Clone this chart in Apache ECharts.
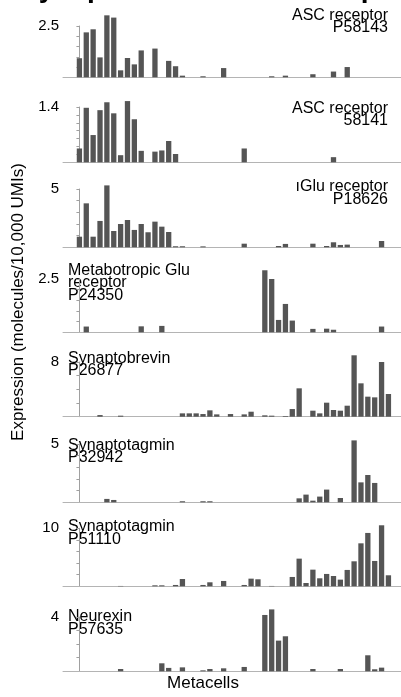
<!DOCTYPE html>
<html>
<head>
<meta charset="utf-8">
<script src="https://cdn.jsdelivr.net/npm/echarts@6/dist/echarts.min.js"></script>
<style>
  html, body { margin: 0; padding: 0; background: #ffffff; }
  #chart { width: 401px; height: 697px; }
</style>
</head>
<body>
<div id="chart"></div>
<script>
// Expression per metacell (molecules / 10,000 UMIs), one array per gene, 46 metacells each
const ascReceptorP58143 = [0.93,2.19,2.34,0.97,3.02,2.91,0.34,0.94,0.63,1.31, 0,1.40,0,0.80,0.54,0.08,0,0,0.05,0, 0,0.45,0,0,0,0,0,0,0.05,0, 0.08,0,0,0,0.15,0,0,0.28,0,0.50, 0,0,0,0,0,0];
const ascReceptor58141 = [0.35,1.38,0.69,1.32,1.52,1.24,0.18,1.55,1.09,0.29, 0,0.27,0.30,0.54,0.21,0,0,0,0,0, 0,0,0,0,0.35,0,0,0,0,0, 0,0,0,0,0,0,0,0.13,0,0, 0,0,0,0,0,0];
const iGluReceptorP18626 = [0.91,3.77,0.91,2.26,5.31,1.40,2.00,2.34,1.49,2.00, 1.29,2.20,1.77,1.31,0.09,0.09,0,0,0.08,0, 0,0,0,0,0.31,0,0,0,0,0.11, 0.29,0,0,0,0.31,0,0.11,0.43,0.20,0.23, 0,0,0,0,0.54,0];
const mGluReceptorP24350 = [0,0.27,0,0,0,0,0,0,0,0.28, 0,0,0.30,0,0,0,0,0,0,0, 0,0,0,0,0,0,0,2.91,2.50,0.58, 1.33,0.55,0,0,0.16,0,0.17,0.12,0,0, 0,0,0,0,0.27,0];
const synaptobrevinP26877 = [0,0,0,0.24,0,0,0.15,0,0,0, 0,0,0,0,0,0.49,0.49,0.49,0.39,0.93, 0.34,0,0.39,0,0.34,0.73,0,0.20,0.15,0, 0.10,1.12,4.15,0,0.88,0.49,2.05,0.98,0.88,1.61, 8.98,4.88,2.93,2.83,8.00,3.32];
const synaptotagminP32942 = [0,0,0,0,0.29,0.20,0,0,0,0, 0,0,0,0,0,0.09,0,0,0.09,0.09, 0,0,0,0,0,0,0,0,0,0, 0,0,0.34,0.66,0.14,0.49,1.09,0,0.37,0, 5.31,1.71,2.34,1.66,0,0];
const synaptotagminP51110 = [0,0,0,0,0,0,0.06,0,0,0, 0,0.17,0.17,0,0.23,1.26,0,0,0.23,0.69, 0,0.92,0,0,0.23,1.32,1.21,0,0.06,0, 0,1.61,4.77,0.57,2.87,1.38,2.13,1.78,1.15,2.82, 4.31,7.41,9.20,4.37,10.52,1.90];
const neurexinP57635 = [0,0,0,0,0,0,0.17,0,0,0, 0,0,0.59,0.25,0,0.29,0,0,0.07,0.17, 0,0.22,0,0,0.32,0,0,4.15,4.56,2.26, 2.58,0,0,0,0.17,0,0,0,0.17,0, 0,0,1.18,0.15,0.27,0];

// Panel labels, y-axis top tick and tick step
const panelSeries = [ascReceptorP58143, ascReceptor58141, iGluReceptorP18626, mGluReceptorP24350,
                     synaptobrevinP26877, synaptotagminP32942, synaptotagminP51110, neurexinP57635];
const panelLabels = ['ASC receptor\nP58143', 'ASC receptor\n58141', 'ıGlu receptor\nP18626',
                     'Metabotropic Glu\nreceptor\nP24350', 'Synaptobrevin\nP26877', 'Synaptotagmin\nP32942',
                     'Synaptotagmin\nP51110', 'Neurexin\nP57635'];
const yTopTicks = [2.5, 1.4, 5, 2.5, 8, 5, 10, 4];
const yTickSteps = [0.5, 0.2, 1, 0.5, 2, 1, 2, 1];

const yAxisTitle = 'Expression (molecules/10,000 UMIs)';
const xAxisTitle = 'Metacells';
const figureTitle = 'Synaptic vesicle and receptor proteins';

// ---- layout ----
const FONT = '"Liberation Sans", Arial, Helvetica, sans-serif';
const panelTop = [26, 107, 189, 279, 362, 444, 528.3, 617];      // y of top tick
const panelBase = [77.3, 162.3, 247.3, 332.3, 416.7, 502.3, 586.3, 671.3]; // y of zero line
const labelRightAligned = [true, true, true, false, false, false, false, false];
const labelTop = [7.2, 100.5, 179, 262.2, 350.5, 437.2, 519, 609];
const X_MIN = -2.39, X_MAX = 46.83;

const grids = [], xAxes = [], yAxes = [], series = [], graphics = [];

panelSeries.forEach((values, p) => {
  grids.push({ left: 63, right: 0, top: panelTop[p], height: panelBase[p] - panelTop[p] });
  xAxes.push({
    type: 'value', gridIndex: p, min: X_MIN, max: X_MAX,
    axisLine: { show: true, onZero: false, lineStyle: { color: '#b4b4b4', width: 1 } },
    axisTick: { show: false }, axisLabel: { show: false }, splitLine: { show: false }
  });
  const top = yTopTicks[p];
  yAxes.push({
    type: 'value', gridIndex: p, min: 0, max: top, interval: yTickSteps[p],
    axisLine: { show: true, lineStyle: { color: '#a0a0a0', width: 1 } },
    axisTick: { show: true, inside: false, length: 3, lineStyle: { color: '#a0a0a0' } },
    axisLabel: {
      show: true, margin: 4, color: '#000', fontFamily: FONT, fontSize: 15,
      showMinLabel: false,
      formatter: v => (Math.abs(v - top) < 1e-9 ? String(top) : '')
    },
    splitLine: { show: false }
  });
  series.push({
    type: 'bar', xAxisIndex: p, yAxisIndex: p, clip: false,
    barWidth: 5.3, itemStyle: { color: '#555555' },
    data: values.map((v, i) => [i, v]),
    silent: true, animation: false
  });
  const lbl = {
    type: 'text', top: labelTop[p],
    style: { text: panelLabels[p], font: '16px ' + FONT, fill: '#000', lineHeight: 12.5,
             textAlign: labelRightAligned[p] ? 'right' : 'left' }
  };
  if (labelRightAligned[p]) lbl.right = 13; else lbl.left = 68;
  graphics.push(lbl);
});

graphics.push({
  type: 'text', x: 20, y: -10.3,
  style: { text: figureTitle, font: 'bold 28px ' + FONT, fill: '#000', textVerticalAlign: 'middle' }
});
graphics.push({
  type: 'text', x: 18, y: 302, rotation: Math.PI / 2,
  style: { text: yAxisTitle, font: '17px ' + FONT, fill: '#000', textAlign: 'center', textVerticalAlign: 'middle' }
});
graphics.push({
  type: 'text', x: 203, y: 683,
  style: { text: xAxisTitle, font: '17px ' + FONT, fill: '#000', textAlign: 'center', textVerticalAlign: 'middle' }
});

const chart = echarts.init(document.getElementById('chart'), null, { renderer: 'canvas' });
chart.setOption({
  animation: false,
  backgroundColor: '#ffffff',
  grid: grids, xAxis: xAxes, yAxis: yAxes, series: series, graphic: graphics
});
</script>
</body>
</html>
